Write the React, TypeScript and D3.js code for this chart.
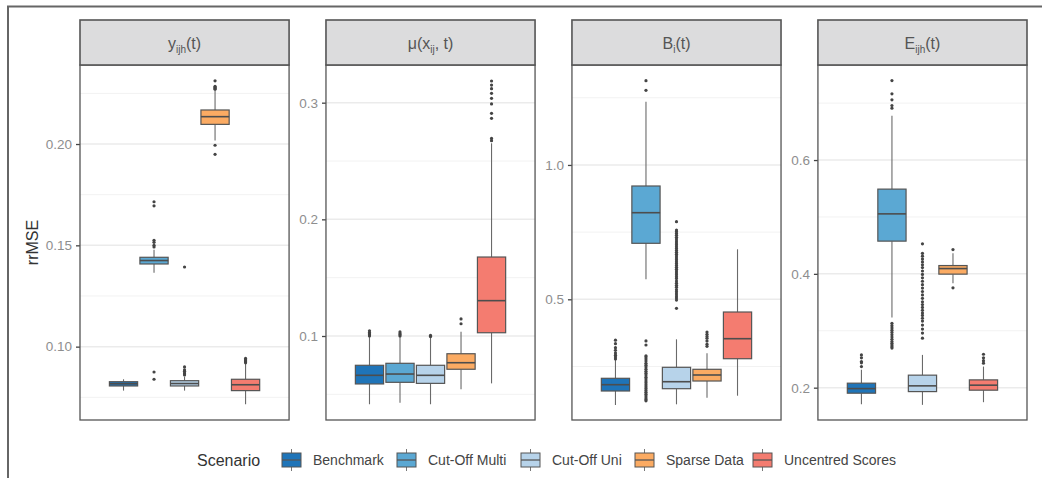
import React, { useEffect, useRef } from 'react';
import * as d3 from 'd3';

// scenarios and colours
const scenarios = ['Benchmark', 'Cut-Off Multi', 'Cut-Off Uni', 'Sparse Data', 'Uncentred Scores'];
const colors = ['#1f74b8', '#5ba8d3', '#b7d3ea', '#fbab63', '#f47c70'];

// facet titles: [main, subscript, rest]
const facetTitles = [
  ['y', 'ijh', '(t)'],
  ['\u03bc(x', 'ij', ', t)'],
  ['B', 'i', '(t)'],
  ['E', 'ijh', '(t)'],
];

// box stats per scenario: [lowWhisker, q1, median, q3, highWhisker]
const yStats = [
  [0.0783, 0.0806, 0.0817, 0.0827, 0.0839],
  [0.1365, 0.1408, 0.1425, 0.1441, 0.1478],
  [0.0783, 0.0806, 0.0818, 0.0832, 0.0852],
  [0.2018, 0.2097, 0.2135, 0.2168, 0.2262],
  [0.0716, 0.0783, 0.0812, 0.0839, 0.0914],
];
const yOutliers = [
  [],
  [0.1715, 0.1695, 0.1525, 0.1515, 0.1500, 0.1492, 0.0875, 0.0839],
  [0.1393, 0.0900, 0.0885, 0.0878, 0.0870, 0.0865, 0.0860],
  [0.2312, 0.2285, 0.2280, 0.2275, 0.2270, 0.1994, 0.1949],
  [0.0942, 0.0935, 0.0930, 0.0925, 0.0920],
];

const muStats = [
  [0.0415, 0.0589, 0.0663, 0.0749, 0.0994],
  [0.0428, 0.0603, 0.0674, 0.0766, 0.0995],
  [0.0415, 0.0594, 0.0663, 0.0749, 0.0985],
  [0.0543, 0.0715, 0.0771, 0.0848, 0.1037],
  [0.0594, 0.1028, 0.1303, 0.1677, 0.2652],
];
const muOutliers = [
  [0.1000, 0.1010, 0.1020, 0.1030, 0.1045],
  [0.1000, 0.1010, 0.1020, 0.1035],
  [0.0995, 0.1000, 0.1005],
  [0.1105, 0.1146],
  [0.2674, 0.2694, 0.2866, 0.2909, 0.2989, 0.3037, 0.3080, 0.3120, 0.3151, 0.3186],
];

const bStats = [
  [0.1066, 0.1587, 0.1822, 0.2060, 0.2741],
  [0.5744, 0.7084, 0.8223, 0.9217, 1.2354],
  [0.1092, 0.1673, 0.1933, 0.2469, 0.3511],
  [0.1338, 0.1959, 0.2183, 0.2395, 0.2990],
  [0.1412, 0.2789, 0.3534, 0.4527, 0.6861],
];
const bOutliers = [
  [0.278, 0.285, 0.292, 0.300, 0.310, 0.320, 0.335, 0.348],
  [1.2778, 1.3136, 0.345, 0.330, 0.290, 0.285, 0.278, 0.270, 0.262, 0.255, 0.248, 0.240, 0.232,
    0.225, 0.218, 0.210, 0.203, 0.196, 0.189, 0.182, 0.175, 0.168, 0.161, 0.154, 0.147, 0.140,
    0.133, 0.127, 0.122],
  [0.789, 0.758, 0.752, 0.745, 0.738, 0.731, 0.724, 0.717, 0.710, 0.703, 0.696, 0.689, 0.682,
    0.675, 0.668, 0.661, 0.654, 0.647, 0.640, 0.633, 0.626, 0.619, 0.612, 0.605, 0.598, 0.591,
    0.584, 0.577, 0.568, 0.560, 0.552, 0.545, 0.536, 0.528, 0.520, 0.512, 0.505, 0.497, 0.4665],
  [0.325, 0.333, 0.345, 0.355, 0.362, 0.370, 0.378],
  [],
];

const eStats = [
  [0.1710, 0.1903, 0.1984, 0.2079, 0.2313],
  [0.3232, 0.4575, 0.5054, 0.5489, 0.6777],
  [0.1698, 0.1931, 0.2032, 0.2220, 0.2576],
  [0.3837, 0.3995, 0.4093, 0.4146, 0.4364],
  [0.1745, 0.1956, 0.2044, 0.2137, 0.2371],
];
const eOutliers = [
  [0.2371, 0.2436, 0.2459, 0.2524, 0.2576],
  [0.6912, 0.6958, 0.7058, 0.7163, 0.7397, 0.313, 0.309, 0.305, 0.301, 0.297, 0.293, 0.289,
    0.285, 0.281, 0.278, 0.275, 0.272, 0.2695],
  [0.4527, 0.436, 0.431, 0.426, 0.421, 0.416, 0.411, 0.405, 0.399, 0.393, 0.387, 0.381, 0.375,
    0.369, 0.363, 0.357, 0.351, 0.346, 0.341, 0.336, 0.331, 0.327, 0.322, 0.317, 0.310, 0.303,
    0.296, 0.287],
  [0.4427, 0.3754],
  [0.2431, 0.2475, 0.2525, 0.2587],
];

// y axis per facet
const yDomains = [[0.0638, 0.2390], [0.028, 0.3323], [0.0508, 1.372], [0.1432, 0.767]];
const yTicks = [[0.10, 0.15, 0.20], [0.1, 0.2, 0.3], [0.5, 1.0], [0.2, 0.4, 0.6]];
const yMinor = [[0.075, 0.125, 0.175, 0.225], [0.05, 0.15, 0.25], [0.25, 0.75, 1.25], [0.3, 0.5, 0.7]];
const tickFormats = ['.2f', '.1f', '.1f', '.1f'];

const facetStats = [yStats, muStats, bStats, eStats];
const facetOutliers = [yOutliers, muOutliers, bOutliers, eOutliers];

const W = 1042;
const H = 478;
const FONT = '"Liberation Sans", Arial, sans-serif';

const App = () => {
  const ref = useRef(null);

  useEffect(() => {
    const svg = d3.select(ref.current);
    svg.selectAll('*').remove();

    const top = 65, bottom = 420, stripH = 45;

    // outer frame (cropped)
    svg.append('path')
      .attr('d', `M8,${H} L8,6.5 L${W},6.5`)
      .attr('fill', 'none').attr('stroke', '#666').attr('stroke-width', 2);

    const fx = d3.scaleBand().domain(d3.range(4)).range([80, 1027]).paddingInner(0.15);

    facetStats.forEach((stats, f) => {
      const pl = fx(f), pw = fx.bandwidth(), pr = pl + pw;
      const y = d3.scaleLinear().domain(yDomains[f]).range([bottom, top]);
      const x = d3.scaleBand().domain(scenarios).range([pl + 29.4, pr - 29.4]).paddingInner(0.075);
      const g = svg.append('g');

      g.append('rect').attr('x', pl).attr('y', top).attr('width', pw).attr('height', bottom - top)
        .attr('fill', '#fff');

      g.selectAll('.minor').data(yMinor[f]).join('line')
        .attr('x1', pl).attr('x2', pr).attr('y1', d => y(d)).attr('y2', d => y(d))
        .attr('stroke', '#f2f2f2').attr('stroke-width', 1);
      g.selectAll('.major').data(yTicks[f]).join('line')
        .attr('x1', pl).attr('x2', pr).attr('y1', d => y(d)).attr('y2', d => y(d))
        .attr('stroke', '#ebebeb').attr('stroke-width', 1.5);

      // axis
      const ax = g.append('g').attr('transform', `translate(${pl},0)`)
        .call(d3.axisLeft(y).tickValues(yTicks[f]).tickFormat(d3.format(tickFormats[f])).tickSize(4).tickPadding(4));
      ax.select('.domain').remove();
      ax.selectAll('line').attr('stroke', '#444').attr('stroke-width', 1.3);
      ax.selectAll('text').attr('fill', '#8e8e8e').attr('font-size', 13.5).attr('font-family', FONT);

      // boxes
      stats.forEach((s, i) => {
        const cx = x(scenarios[i]) + x.bandwidth() / 2;
        const bw = x.bandwidth();
        const [lo, q1, med, q3, hi] = s;
        g.append('line').attr('x1', cx).attr('x2', cx).attr('y1', y(hi)).attr('y2', y(q3))
          .attr('stroke', '#6a6a6a').attr('stroke-width', 1.1);
        g.append('line').attr('x1', cx).attr('x2', cx).attr('y1', y(q1)).attr('y2', y(lo))
          .attr('stroke', '#6a6a6a').attr('stroke-width', 1.1);
        g.append('rect').attr('x', cx - bw / 2).attr('y', y(q3)).attr('width', bw)
          .attr('height', Math.max(0.5, y(q1) - y(q3)))
          .attr('fill', colors[i]).attr('stroke', '#555').attr('stroke-width', 1.2);
        g.append('line').attr('x1', cx - bw / 2).attr('x2', cx + bw / 2).attr('y1', y(med)).attr('y2', y(med))
          .attr('stroke', '#4d4d4d').attr('stroke-width', 1.6);
        g.selectAll(null).data(facetOutliers[f][i]).join('circle')
          .attr('cx', cx).attr('cy', d => y(d)).attr('r', 1.6).attr('fill', '#444');
      });

      g.append('rect').attr('x', pl).attr('y', top).attr('width', pw).attr('height', bottom - top)
        .attr('fill', 'none').attr('stroke', '#555').attr('stroke-width', 1.3);

      // strip
      g.append('rect').attr('x', pl).attr('y', top - stripH).attr('width', pw).attr('height', stripH)
        .attr('fill', '#dcdcdd').attr('stroke', '#555').attr('stroke-width', 1.6);
      const [a, sub, b] = facetTitles[f];
      const t = g.append('text').attr('x', pl + pw / 2).attr('y', top - stripH / 2 + 6)
        .attr('text-anchor', 'middle').attr('font-family', FONT).attr('font-size', 16).attr('fill', '#555');
      t.append('tspan').text(a);
      t.append('tspan').attr('font-size', 10).attr('dy', 4).text(sub);
      t.append('tspan').attr('dy', -4).text(b);
    });

    // y axis title
    svg.append('text').attr('transform', `translate(38,${(top + bottom) / 2}) rotate(-90)`)
      .attr('text-anchor', 'middle').attr('font-family', FONT).attr('font-size', 16).attr('fill', '#333')
      .text('rrMSE');

    // legend
    const ly = 460;
    const leg = svg.append('g').attr('font-family', FONT);
    leg.append('text').attr('x', 197).attr('y', ly + 6).attr('font-size', 16).attr('fill', '#333').text('Scenario');
    const keyX = [282, 397, 521, 635, 753];
    scenarios.forEach((s, i) => {
      const kx = keyX[i];
      leg.append('line').attr('x1', kx + 9.5).attr('x2', kx + 9.5).attr('y1', ly - 11).attr('y2', ly + 11)
        .attr('stroke', '#777').attr('stroke-width', 1);
      leg.append('rect').attr('x', kx).attr('y', ly - 7).attr('width', 19).attr('height', 14)
        .attr('fill', colors[i]).attr('stroke', '#555').attr('stroke-width', 1);
      leg.append('line').attr('x1', kx).attr('x2', kx + 19).attr('y1', ly).attr('y2', ly)
        .attr('stroke', '#555').attr('stroke-width', 1.3);
      leg.append('text').attr('x', kx + 31).attr('y', ly + 5).attr('font-size', 14).attr('fill', '#444').text(s);
    });
  }, []);

  return (
    <svg ref={ref} width={W} height={H} style={{ position: 'absolute', left: 0, top: 0, background: '#fff' }}></svg>
  );
};

export default App;
